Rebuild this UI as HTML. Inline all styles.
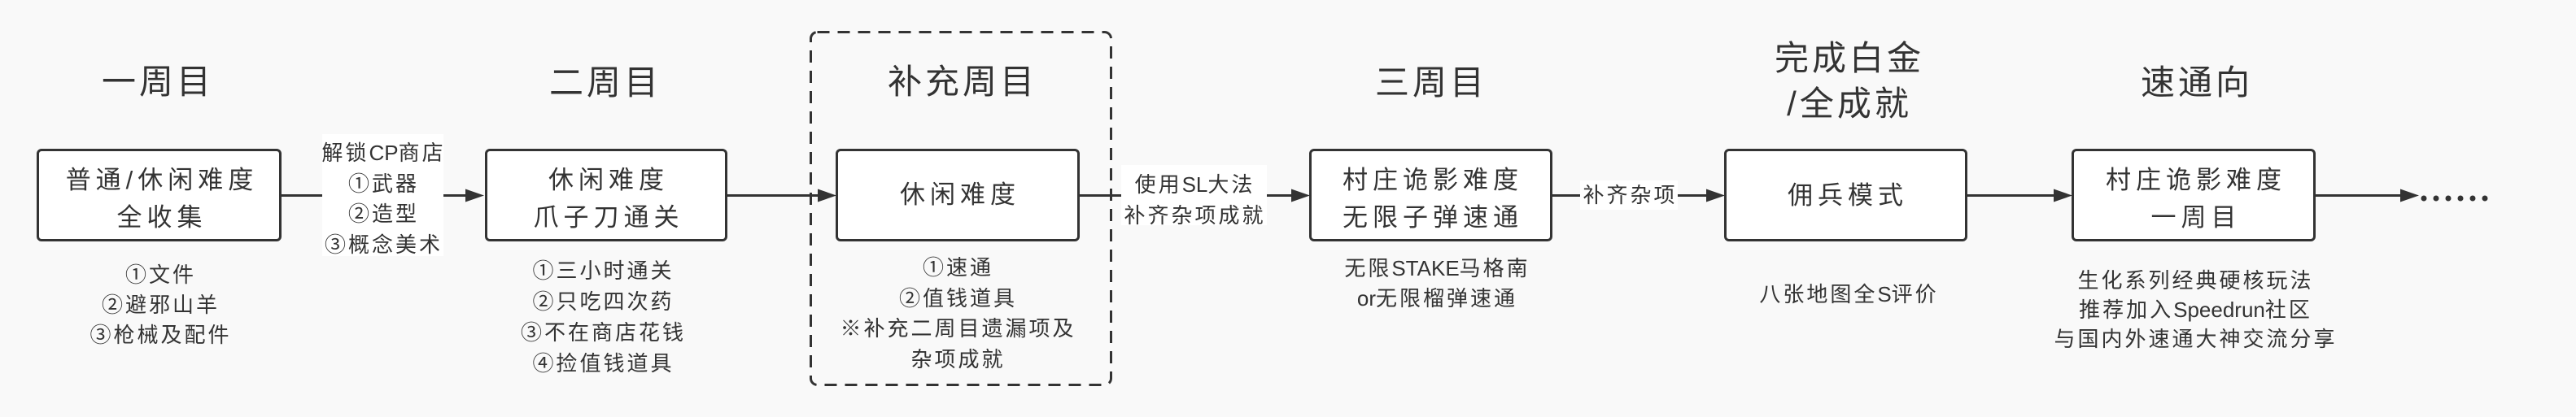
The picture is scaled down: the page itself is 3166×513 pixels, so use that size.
<!DOCTYPE html>
<html>
<head>
<meta charset="utf-8">
<style>
  html,body{margin:0;padding:0;}
  body{width:3166px;height:513px;background:#f9f9f9;position:relative;overflow:hidden;
       font-family:"Liberation Sans","Noto Sans CJK SC",sans-serif;color:#333;}
  .t{position:absolute;white-space:nowrap;text-align:center;transform:translateX(-50%);}
  .title{font-size:42px;letter-spacing:4px;padding-left:4px;line-height:56px;}
  .bt{font-size:31px;letter-spacing:6px;padding-left:6px;line-height:46px;}
  .an{font-size:26px;letter-spacing:3px;padding-left:3px;}
  .lat{letter-spacing:0;}
  .box{position:absolute;top:183px;height:108px;background:#fff;border:3px solid #333;border-radius:6px;box-sizing:content-box;}
  .wbg{position:absolute;background:#fff;}
  svg{position:absolute;left:0;top:0;}
</style>
</head>
<body>

<svg width="3166" height="513" viewBox="0 0 3166 513">
  <!-- dashed group box -->
  <rect x="996.5" y="39.5" width="369" height="434" rx="8" ry="8" fill="none" stroke="#333" stroke-width="3" stroke-dasharray="15 10"/>
  <!-- connector lines -->
  <g stroke="#333" stroke-width="3" fill="none">
    <line x1="346" y1="240.5" x2="575" y2="240.5"/>
    <line x1="894" y1="240.5" x2="1008" y2="240.5"/>
    <line x1="1327" y1="240.5" x2="1590" y2="240.5"/>
    <line x1="1908" y1="240.5" x2="2100" y2="240.5"/>
    <line x1="2418" y1="240.5" x2="2527" y2="240.5"/>
    <line x1="2846" y1="240.5" x2="2953" y2="240.5"/>
  </g>
  <g fill="#333">
    <polygon points="572,232.5 595,240.5 572,248.5"/>
    <polygon points="1005,232.5 1028,240.5 1005,248.5"/>
    <polygon points="1587,232.5 1610,240.5 1587,248.5"/>
    <polygon points="2097,232.5 2120,240.5 2097,248.5"/>
    <polygon points="2524,232.5 2547,240.5 2524,248.5"/>
    <polygon points="2950,232.5 2973,240.5 2950,248.5"/>
    <circle cx="2979" cy="244" r="3.5"/>
    <circle cx="2994" cy="244" r="3.5"/>
    <circle cx="3009" cy="244" r="3.5"/>
    <circle cx="3024" cy="244" r="3.5"/>
    <circle cx="3039" cy="244" r="3.5"/>
    <circle cx="3054" cy="244" r="3.5"/>
  </g>
</svg>

<!-- connector label backgrounds -->
<div class="wbg" style="left:396px;top:165px;width:149px;height:150px;"></div>
<div class="wbg" style="left:1378px;top:203px;width:179px;height:74px;"></div>
<div class="wbg" style="left:1942px;top:222px;width:120px;height:36px;"></div>

<!-- boxes -->
<div class="box" style="left:45px;width:295px;"></div>
<div class="box" style="left:596px;width:292px;"></div>
<div class="box" style="left:1027px;width:294px;"></div>
<div class="box" style="left:1609px;width:293px;"></div>
<div class="box" style="left:2119px;width:293px;"></div>
<div class="box" style="left:2546px;width:294px;"></div>

<!-- titles -->
<div class="t title" style="left:192px;top:73px;">一周目</div>
<div class="t title" style="left:742px;top:74px;">二周目</div>
<div class="t title" style="left:1181px;top:73px;">补充周目</div>
<div class="t title" style="left:1757px;top:74px;">三周目</div>
<div class="t title" style="left:2271px;top:44px;">完成白金<br>/全成就</div>
<div class="t title" style="left:2698px;top:74px;">速通向</div>

<!-- box texts -->
<div class="t bt" style="left:196px;top:199px;">普通/休闲难度<br>全收集</div>
<div class="t bt" style="left:745px;top:199px;">休闲难度<br>爪子刀通关</div>
<div class="t bt" style="left:1177px;top:217px;">休闲难度</div>
<div class="t bt" style="left:1758px;top:199px;">村庄诡影难度<br>无限子弹速通</div>
<div class="t bt" style="left:2268px;top:218px;">佣兵模式</div>
<div class="t bt" style="left:2696px;top:199px;">村庄诡影难度<br>一周目</div>

<!-- connector labels -->
<div class="t an" style="left:470px;top:170px;line-height:37.5px;">解锁<span class="lat">CP</span>商店<br>①武器<br>②造型<br>③概念美术</div>
<div class="t an" style="left:1467px;top:208px;line-height:38px;">使用<span class="lat">SL</span>大法<br>补齐杂项成就</div>
<div class="t an" style="left:2002px;top:221px;line-height:38px;">补齐杂项</div>

<!-- annotations -->
<div class="t an" style="left:196px;top:320px;line-height:37px;">①文件<br>②避邪山羊<br>③枪械及配件</div>
<div class="t an" style="left:740px;top:314px;line-height:38px;">①三小时通关<br>②只吃四次药<br>③不在商店花钱<br>④捡值钱道具</div>
<div class="t an" style="left:1176px;top:311px;line-height:37.7px;">①速通<br>②值钱道具<br>※补充二周目遗漏项及<br>杂项成就</div>
<div class="t an" style="left:1765px;top:312px;line-height:37px;">无限<span class="lat">STAKE</span>马格南<br><span class="lat">or</span>无限榴弹速通</div>
<div class="t an" style="left:2271px;top:343px;line-height:38px;">八张地图全<span class="lat">S</span>评价</div>
<div class="t an" style="left:2697px;top:327px;line-height:36px;">生化系列经典硬核玩法<br>推荐加入<span class="lat">Speedrun</span>社区<br>与国内外速通大神交流分享</div>

</body>
</html>
